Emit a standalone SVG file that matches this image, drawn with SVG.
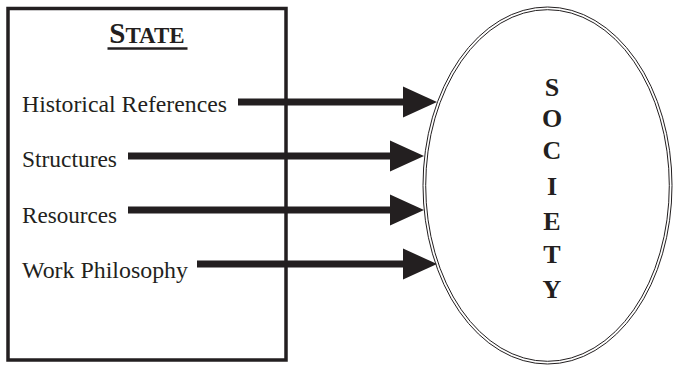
<svg xmlns="http://www.w3.org/2000/svg" width="673" height="367" viewBox="0 0 673 367">
<style>
.lbl{font-family:"Liberation Serif","Times New Roman",serif;font-size:23.5px;fill:#231f20}
.soc{font-family:"Liberation Serif","Times New Roman",serif;font-size:26px;font-weight:bold;fill:#231f20}
.ttl{font-family:"Liberation Serif","Times New Roman",serif;font-weight:bold;fill:#231f20}
.shaft{stroke:#231f20;stroke-width:7;fill:none}
.head{fill:#231f20}
</style>
<rect width="673" height="367" fill="#ffffff"/>
<g id="state">
<rect x="8" y="8.5" width="278" height="351.5" fill="none" stroke="#231f20" stroke-width="3.5"/>
<text class="ttl" x="147" y="43" text-anchor="middle"><tspan font-size="29">S</tspan><tspan font-size="23">TATE</tspan></text>
<line x1="107.5" y1="48.5" x2="187.5" y2="48.5" stroke="#231f20" stroke-width="2.5"/>
<text class="lbl" x="22" y="112" textLength="205" lengthAdjust="spacingAndGlyphs">Historical References</text>
<text class="lbl" x="22" y="167" textLength="95" lengthAdjust="spacingAndGlyphs">Structures</text>
<text class="lbl" x="22" y="223" textLength="95" lengthAdjust="spacingAndGlyphs">Resources</text>
<text class="lbl" x="22" y="278" textLength="166" lengthAdjust="spacingAndGlyphs">Work Philosophy</text>
</g>
<g id="society">
<ellipse cx="547.5" cy="185.5" rx="124.5" ry="178.5" fill="none" stroke="#231f20" stroke-width="1"/>
<ellipse cx="547.5" cy="185.5" rx="121.8" ry="175.8" fill="none" stroke="#231f20" stroke-width="1"/>
<g class="soc" text-anchor="middle">
<text x="552" y="96">S</text>
<text x="552" y="127">O</text>
<text x="552" y="159">C</text>
<text x="552" y="195">I</text>
<text x="552" y="230">E</text>
<text x="552" y="263">T</text>
<text x="552" y="298">Y</text>
</g>
</g>
<g id="connectors">
<line class="shaft" x1="238" y1="102" x2="405" y2="102"/>
<polygon class="head" points="403,86.5 437,102 403,117.5"/>
<line class="shaft" x1="128" y1="156" x2="392" y2="156"/>
<polygon class="head" points="390,140.5 424,156 390,171.5"/>
<line class="shaft" x1="128" y1="210" x2="392" y2="210"/>
<polygon class="head" points="390,194.5 424,210 390,225.5"/>
<line class="shaft" x1="197" y1="264" x2="405" y2="264"/>
<polygon class="head" points="403,248.5 437,264 403,279.5"/>
</g>
</svg>
